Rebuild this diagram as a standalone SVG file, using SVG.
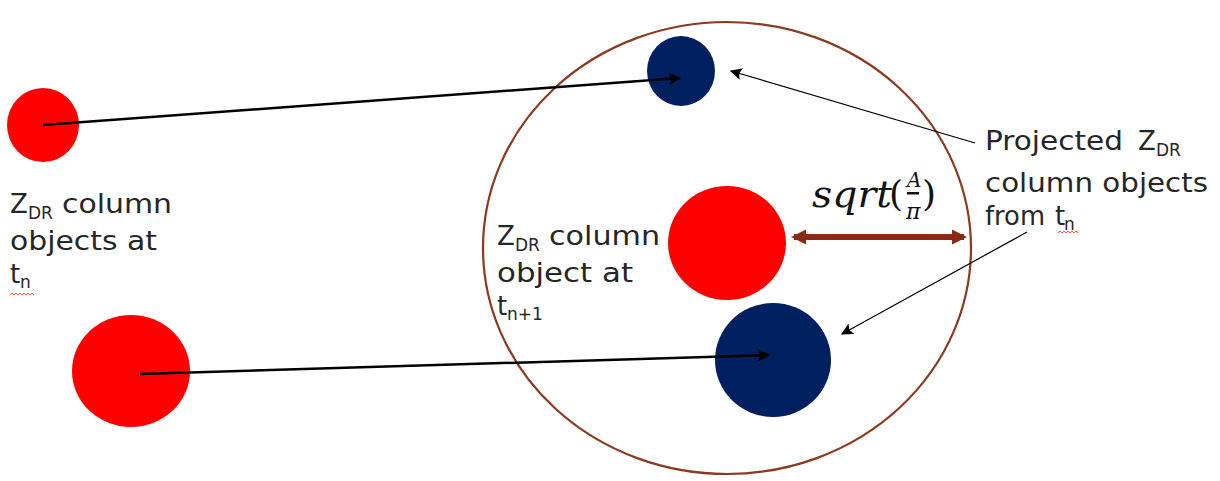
<svg xmlns="http://www.w3.org/2000/svg" width="1220" height="481" viewBox="0 0 1220 481">
<defs>
<style>
.lbl{font-family:"DejaVu Sans","Liberation Sans",Arial,sans-serif;font-size:26px;fill:#262626}
.sub{font-family:"DejaVu Sans","Liberation Sans",Arial,sans-serif;font-size:17px;fill:#262626}
.red{fill:#ff0000}
.navy{fill:#002060}
.conn{stroke:#000;fill:none}
.squig{stroke:#ff5050;stroke-width:1;fill:none}
.math{font-family:"DejaVu Serif","Liberation Serif",serif;fill:#111}
</style>
<marker id="ah" viewBox="0 0 10 10" refX="9" refY="5" markerWidth="5" markerHeight="5" orient="auto" markerUnits="strokeWidth">
<path d="M0,0 L10,5 L0,10 L2,5 Z" fill="#000"/>
</marker>
<marker id="ahThin" viewBox="0 0 10 10" refX="9" refY="5" markerWidth="14" markerHeight="12" orient="auto" markerUnits="userSpaceOnUse">
<path d="M0,0 L10,5 L0,10 L2,5 Z" fill="#000"/>
</marker>
<marker id="ahBrown" viewBox="0 0 10 10" refX="8" refY="5" markerWidth="2.6" markerHeight="2.6" orient="auto-start-reverse" markerUnits="strokeWidth">
<path d="M0,0 L10,5 L0,10 Z" fill="#8b2a12"/>
</marker>
</defs>
<rect width="1220" height="481" fill="#fff"/>
<g id="region">
<ellipse cx="727" cy="248" rx="244" ry="226" fill="none" stroke="#8b3a1f" stroke-width="2.2"/>
</g>
<g id="red-small-tn">
<ellipse cx="43" cy="125" rx="36" ry="37" class="red"/>
</g>
<g id="red-big-tn">
<ellipse cx="131" cy="371" rx="59" ry="56" class="red"/>
</g>
<g id="red-tn1">
<ellipse cx="727" cy="243" rx="59" ry="57" class="red"/>
</g>
<g id="navy-small">
<ellipse cx="681" cy="71" rx="34" ry="35" class="navy"/>
</g>
<g id="navy-big">
<ellipse cx="773" cy="360" rx="58" ry="57" class="navy"/>
</g>
<g id="connectors">
<line x1="43" y1="125" x2="680" y2="78" class="conn" stroke-width="2.5" marker-end="url(#ah)"/>
<line x1="140" y1="374" x2="769" y2="355" class="conn" stroke-width="2.5" marker-end="url(#ah)"/>
<line x1="975" y1="143" x2="731" y2="71" class="conn" stroke-width="1.2" marker-end="url(#ahThin)"/>
<line x1="1027" y1="232" x2="842" y2="334" class="conn" stroke-width="1.2" marker-end="url(#ahThin)"/>
<line x1="794" y1="237" x2="964" y2="237" stroke="#8b2a12" stroke-width="6" marker-start="url(#ahBrown)" marker-end="url(#ahBrown)"/>
</g>
<g id="formula" class="math">
<text class="math" x="812" y="207" font-size="38" font-style="italic" textLength="80" lengthAdjust="spacingAndGlyphs">sqrt</text>
<text class="math" x="889" y="206" font-size="36">(</text>
<text class="math" x="907" y="187" font-size="20" font-style="italic">A</text>
<rect x="907" y="192" width="12" height="2.5" fill="#111"/>
<text class="math" x="906" y="219" font-size="22" font-style="italic">π</text>
<text class="math" x="922" y="206" font-size="36">)</text>
</g>
<g id="label-left">
<text class="lbl" x="10" y="213">Z</text>
<text class="sub" x="28" y="219">DR</text>
<text class="lbl" x="62" y="213" textLength="110" lengthAdjust="spacingAndGlyphs">column</text>
<text class="lbl" x="10" y="250" textLength="147" lengthAdjust="spacingAndGlyphs">objects at</text>
<text class="lbl" x="10" y="283">t</text>
<text class="sub" x="20" y="288">n</text>
<path class="squig" d="M10,295 l2,-2 l2,2 l2,-2 l2,2 l2,-2 l2,2 l2,-2 l2,2 l2,-2 l2,2 l2,-2 l2,2"/>
</g>
<g id="label-mid">
<text class="lbl" x="497" y="245">Z</text>
<text class="sub" x="515" y="251">DR</text>
<text class="lbl" x="549" y="245" textLength="111" lengthAdjust="spacingAndGlyphs">column</text>
<text class="lbl" x="497" y="282" textLength="136" lengthAdjust="spacingAndGlyphs">object at</text>
<text class="lbl" x="497" y="315">t</text>
<text class="sub" x="507" y="320">n+1</text>
</g>
<g id="label-right">
<text class="lbl" x="985" y="150" textLength="138" lengthAdjust="spacingAndGlyphs">Projected</text>
<text class="lbl" x="1138" y="150">Z</text>
<text class="sub" x="1156" y="156">DR</text>
<text class="lbl" x="985" y="192" textLength="223" lengthAdjust="spacingAndGlyphs">column objects</text>
<text class="lbl" x="985" y="225" textLength="60" lengthAdjust="spacingAndGlyphs">from</text>
<text class="lbl" x="1055" y="225">t</text>
<text class="sub" x="1064" y="230">n</text>
<path class="squig" d="M1058,233 l2,-2 l2,2 l2,-2 l2,2 l2,-2 l2,2 l2,-2 l2,2 l2,-2 l2,2"/>
</g>
</svg>
